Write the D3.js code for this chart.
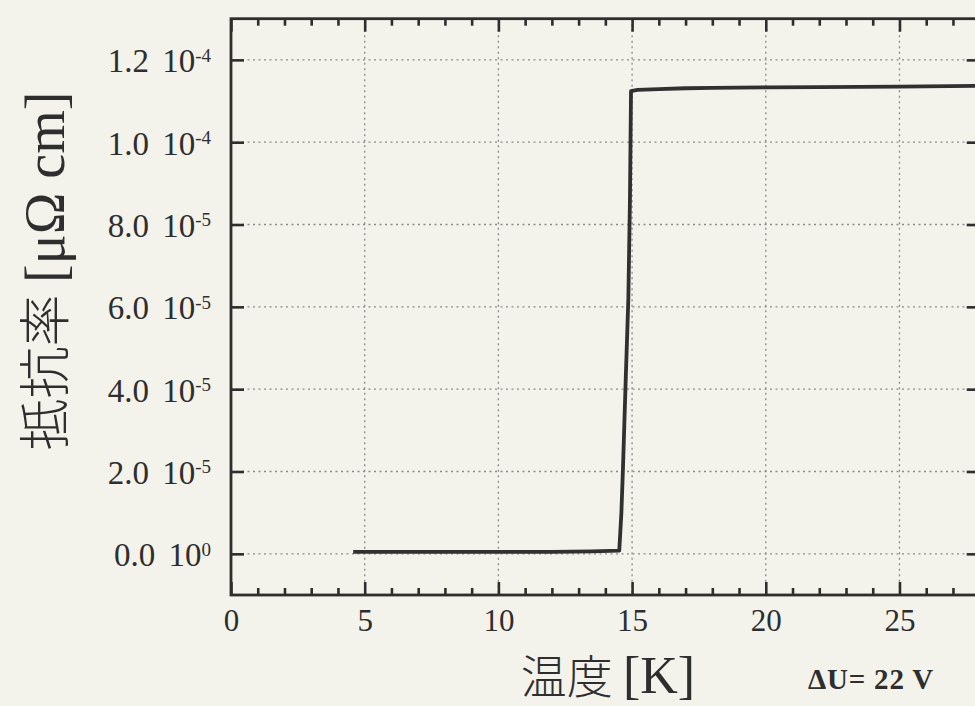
<!DOCTYPE html>
<html>
<head>
<meta charset="utf-8">
<script src="https://cdn.jsdelivr.net/npm/d3@7"></script>
<style>
html,body{margin:0;padding:0;background:#f3f3ec;}
svg{display:block;}
</style>
</head>
<body>
<div id="chart"></div>
<script>
// ---- data ----
const temperature = [4.57, 6, 8, 10, 12, 13.5, 14.52, 14.6, 14.66, 14.76, 14.86, 14.92, 14.96, 15.2, 16, 17, 18, 20, 22, 25, 28, 30];
const resistivity = [0.5e-6, 0.5e-6, 0.5e-6, 0.5e-6, 0.5e-6, 0.6e-6, 0.8e-6, 1.0e-5, 2.1e-5, 4.2e-5, 6.2e-5, 8.6e-5, 1.124e-4, 1.127e-4, 1.129e-4, 1.131e-4, 1.132e-4, 1.133e-4, 1.134e-4, 1.135e-4, 1.137e-4, 1.138e-4];
const xTickValues = [0, 5, 10, 15, 20, 25];
const xTickLabels = ["0", "5", "10", "15", "20", "25"];
const yTickValues = [0, 2e-5, 4e-5, 6e-5, 8e-5, 1.0e-4, 1.2e-4];
const yTickMantissa = ["0.0", "2.0", "4.0", "6.0", "8.0", "1.0", "1.2"];
const yTickExponent = ["0", "-5", "-5", "-5", "-5", "-4", "-4"];
const xLabelCJK = "温度";
const xLabelUnit = "[K]";
const yLabelCJK = "抵抗率";
const yLabelUnit = "[μΩ cm]";
const annotation = "ΔU= 22 V";

// ---- layout ----
const W = 975, H = 706;
const pLeft = 231, pTop = 18.7, pRight = 979.7, pBottom = 595;
const ink = "#2e2e2e";
const serif = "'Liberation Serif', 'Times New Roman', serif";
const cjk = "'Noto Sans CJK JP', 'Noto Sans CJK SC', sans-serif";

const svg = d3.select("#chart").append("svg").attr("width", W).attr("height", H);
svg.append("rect").attr("width", W).attr("height", H).attr("fill", "#f3f3ec");

const x = d3.scaleLinear().domain([0, 28]).range([pLeft, pRight]);
const y = d3.scaleLinear().domain([-1e-5, 1.3e-4]).range([pBottom, pTop]);

// grid
const grid = svg.append("g").attr("stroke", "#8a8a8a").attr("stroke-width", 1.3).attr("stroke-dasharray", "2,3.5");
grid.selectAll("line.gx").data(xTickValues.filter(v => v > 0)).join("line")
  .attr("x1", d => x(d)).attr("x2", d => x(d)).attr("y1", pTop).attr("y2", pBottom);
grid.selectAll("line.gy").data(yTickValues).join("line")
  .attr("x1", pLeft).attr("x2", pRight).attr("y1", d => y(d)).attr("y2", d => y(d));

// data line
svg.append("clipPath").attr("id", "clip").append("rect")
  .attr("x", pLeft).attr("y", pTop).attr("width", pRight - pLeft).attr("height", pBottom - pTop);
const pts = temperature.map((t, i) => [t, resistivity[i]]);
svg.append("path").datum(pts)
  .attr("clip-path", "url(#clip)")
  .attr("fill", "none").attr("stroke", "#303030").attr("stroke-width", 3.8)
  .attr("stroke-linejoin", "round")
  .attr("d", d3.line().x(d => x(d[0])).y(d => y(d[1])));

// axes
const minor = d3.range(0, 29, 1);
function styleAxis(g) {
  g.select(".domain").remove();
  g.selectAll(".tick line").attr("stroke", ink).attr("stroke-width", 2.6);
}
svg.append("g").attr("transform", `translate(0,${pBottom})`)
  .call(d3.axisBottom(x).tickValues(minor.filter(v => v % 5 !== 0)).tickSizeInner(-7).tickSizeOuter(0).tickFormat(""))
  .call(styleAxis);
const xb = svg.append("g").attr("transform", `translate(0,${pBottom})`)
  .call(d3.axisBottom(x).tickValues(xTickValues).tickSizeInner(-13).tickSizeOuter(0).tickPadding(11)
    .tickFormat((d, i) => xTickLabels[i]))
  .call(styleAxis);
xb.selectAll("text").attr("font-family", serif).attr("font-size", 31).attr("fill", ink).attr("dy", "0.8em");
svg.append("g").attr("transform", `translate(0,${pTop})`)
  .call(d3.axisTop(x).tickValues(minor.filter(v => v % 5 !== 0)).tickSizeInner(-7).tickSizeOuter(0).tickFormat(""))
  .call(styleAxis);
svg.append("g").attr("transform", `translate(0,${pTop})`)
  .call(d3.axisTop(x).tickValues(xTickValues).tickSizeInner(-13).tickSizeOuter(0).tickFormat(""))
  .call(styleAxis);
const yl = svg.append("g").attr("transform", `translate(${pLeft},0)`)
  .call(d3.axisLeft(y).tickValues(yTickValues).tickSizeInner(-13).tickSizeOuter(0).tickPadding(20).tickFormat(""))
  .call(styleAxis);
yl.selectAll(".tick text").each(function(d, i) {
  const t = d3.select(this).attr("font-family", serif).attr("font-size", 33).attr("fill", ink)
    .attr("dy", "0.36em").attr("word-spacing", 5);
  t.append("tspan").text(yTickMantissa[i] + " 10");
  t.append("tspan").attr("dy", "-0.55em").attr("font-size", 19).text(yTickExponent[i]);
});
svg.append("g").attr("transform", `translate(${pRight},0)`)
  .call(d3.axisRight(y).tickValues(yTickValues).tickSizeInner(-13).tickSizeOuter(0).tickFormat(""))
  .call(styleAxis);

// frame
svg.append("rect").attr("x", pLeft).attr("y", pTop).attr("width", pRight - pLeft).attr("height", pBottom - pTop)
  .attr("fill", "none").attr("stroke", ink).attr("stroke-width", 2.8);

// axis titles
const xt = svg.append("text").attr("x", 608).attr("y", 693).attr("text-anchor", "middle").attr("fill", ink);
xt.append("tspan").attr("font-family", cjk).attr("font-size", 46).attr("font-weight", 300).text(xLabelCJK + " ");
xt.append("tspan").attr("font-family", serif).attr("font-size", 52).text(xLabelUnit);

const yt = svg.append("text").attr("transform", "translate(64,271) rotate(-90)").attr("text-anchor", "middle").attr("fill", ink);
yt.append("tspan").attr("font-family", cjk).attr("font-size", 52).attr("font-weight", 300).text(yLabelCJK + " ");
yt.append("tspan").attr("font-family", serif).attr("font-size", 56).text(yLabelUnit);

svg.append("text").attr("x", 871).attr("y", 689).attr("text-anchor", "middle")
  .attr("font-family", serif).attr("font-weight", "bold").attr("font-size", 29).attr("fill", ink)
  .attr("letter-spacing", 0.8)
  .text(annotation);
</script>
</body>
</html>
